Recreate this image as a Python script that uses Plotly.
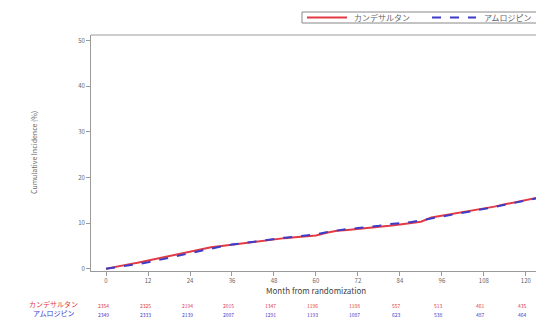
import plotly.graph_objects as go

months = [0, 3, 6, 9, 12, 15, 18, 21, 24, 27, 30, 33, 36, 39, 42, 45, 48, 51, 54, 57, 60,
          63, 66, 69, 72, 75, 78, 81, 84, 87, 90, 93, 96, 99, 102, 105, 108, 111, 114, 117, 120, 123]
cande = [0, 0.5, 0.9, 1.3, 1.8, 2.3, 2.8, 3.3, 3.8, 4.3, 4.7, 5.0, 5.3, 5.6, 5.9, 6.2, 6.5, 6.7, 6.9, 7.1, 7.3,
         7.9, 8.3, 8.5, 8.7, 8.9, 9.2, 9.4, 9.7, 10.0, 10.3, 11.2, 11.6, 11.9, 12.3, 12.7, 13.1, 13.6, 14.1, 14.6, 15.1, 15.5]
amlo = [0, 0.3, 0.6, 1.0, 1.4, 1.9, 2.4, 2.9, 3.4, 4.0, 4.5, 4.9, 5.3, 5.6, 6.0, 6.3, 6.6, 6.8, 7.0, 7.2, 7.5,
        8.0, 8.4, 8.7, 8.9, 9.1, 9.4, 9.8, 10.0, 10.2, 10.6, 11.0, 11.5, 11.9, 12.3, 12.6, 13.0, 13.5, 14.0, 14.5, 15.0, 15.4]

tick_months = [0, 12, 24, 36, 48, 60, 72, 84, 96, 108, 120]
risk_cande = [2354, 2325, 2194, 2015, 1347, 1196, 1108, 557, 513, 461, 435]
risk_amlo = [2349, 2333, 2139, 2007, 1291, 1193, 1087, 623, 538, 487, 464]
y_ticks = [0, 10, 20, 30, 40, 50]
series_names = ["カンデサルタン", "アムロジピン"]

RED = "#e23a44"
BLUE = "#3c3cc8"
AX = "#9a9a9a"
TXT = "#666666"
FONT = "Noto Sans CJK JP"

L, T, W, H = 91, 35, 445, 236


def px(xp):
    return (xp - L) / W


def py(yp):
    return (T + H - yp) / H


fig = go.Figure()
fig.add_trace(go.Scatter(x=months, y=cande, mode="lines", name=series_names[0],
                         line=dict(color=RED, width=2)))
fig.add_trace(go.Scatter(x=months, y=amlo, mode="lines", name=series_names[1],
                         line=dict(color=BLUE, width=2, dash="dash")))

ann = []
for m, rc, ra in zip(tick_months, risk_cande, risk_amlo):
    ann.append(dict(x=m, y=0, xref="x", yref="paper", yshift=-40, text=str(rc), showarrow=False,
                    font=dict(size=5, color=RED, family=FONT), xshift=-3))
    ann.append(dict(x=m, y=0, xref="x", yref="paper", yshift=-49, text=str(ra), showarrow=False,
                    font=dict(size=5, color=BLUE, family=FONT), xshift=-3))
ann.append(dict(x=0, y=0, xref="paper", yref="paper", xanchor="right", xshift=-11, yshift=-40,
                text=series_names[0], showarrow=False, font=dict(size=7, color=RED, family=FONT)))
ann.append(dict(x=0, y=0, xref="paper", yref="paper", xanchor="right", xshift=-14, yshift=-49,
                text=series_names[1], showarrow=False, font=dict(size=7, color=BLUE, family=FONT)))
ann.append(dict(x=60, y=0, xref="x", yref="paper", yshift=-27, text="Month from randomization",
                showarrow=False, font=dict(size=8, color="#444", family=FONT)))
ann.append(dict(x=0, y=0.5, xref="paper", yref="paper", xshift=-64, text="Cumulative Incidence (%)",
                textangle=-90, showarrow=False, font=dict(size=7, color=TXT, family=FONT)))
# manual legend texts
ann.append(dict(x=px(352), y=py(17.5), xref="paper", yref="paper", xanchor="left", yanchor="middle",
                text=series_names[0], showarrow=False, font=dict(size=8, color=TXT, family=FONT)))
ann.append(dict(x=px(482), y=py(17.5), xref="paper", yref="paper", xanchor="left", yanchor="middle",
                text=series_names[1], showarrow=False, font=dict(size=8, color=TXT, family=FONT)))

shapes = [
    dict(type="line", xref="paper", yref="paper", x0=0, x1=1, y0=1, y1=1, line=dict(color=AX, width=1)),
    dict(type="rect", xref="paper", yref="paper", x0=px(302), x1=px(560), y0=py(23), y1=py(12),
         line=dict(color="#888", width=1), fillcolor="white"),
    dict(type="line", xref="paper", yref="paper", x0=px(307), x1=px(347), y0=py(17.5), y1=py(17.5),
         line=dict(color=RED, width=2)),
    dict(type="line", xref="paper", yref="paper", x0=px(432), x1=px(476), y0=py(17.5), y1=py(17.5),
         line=dict(color=BLUE, width=2, dash="dash")),
]

fig.update_layout(
    width=536, height=331,
    margin=dict(l=L, r=536 - L - W, t=T, b=331 - T - H),
    plot_bgcolor="white", paper_bgcolor="white",
    font=dict(family=FONT, color=TXT),
    showlegend=False,
    hovermode=False,
    xaxis=dict(range=[-4.3, 122.9], tickvals=tick_months, showgrid=False, zeroline=False,
               showline=True, linecolor=AX, linewidth=1, ticks="outside", ticklen=4, tickcolor=AX,
               tickfont=dict(size=6, color=TXT), automargin=False),
    yaxis=dict(range=[-0.5, 51.2], tickvals=y_ticks, showgrid=False, zeroline=False,
               showline=True, linecolor=AX, linewidth=1, ticks="outside", ticklen=4, tickcolor=AX,
               tickfont=dict(size=6, color=TXT), automargin=False),
    annotations=ann,
    shapes=shapes,
)

fig.write_html("out.html", config={"displayModeBar": False},
               post_script="document.body.style.margin='0';document.body.style.overflow='hidden';")
